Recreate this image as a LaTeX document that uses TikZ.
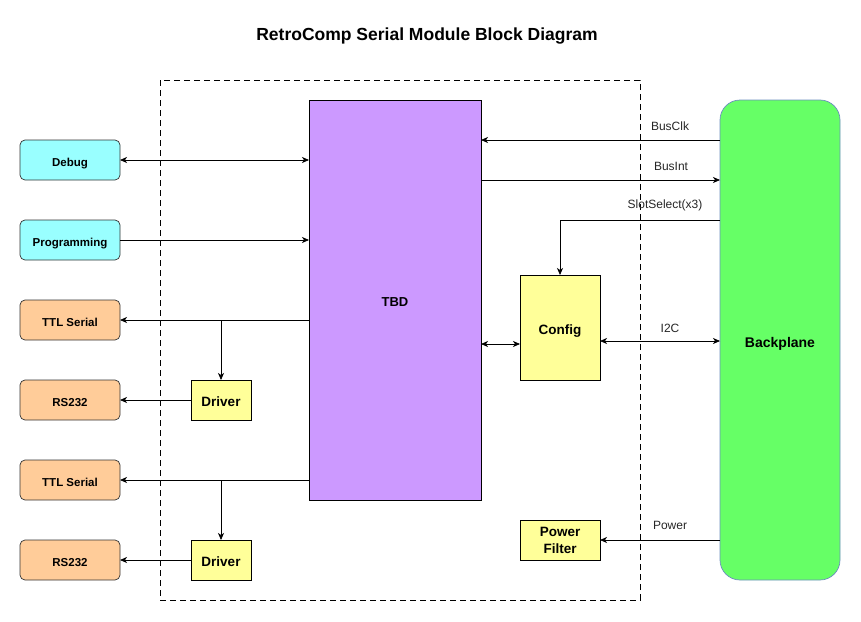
\documentclass[tikz,border=0pt]{standalone}
\usepackage{fontspec}
\setmainfont{Liberation Sans}
\usetikzlibrary{arrows.meta}
\definecolor{cyanf}{HTML}{99FFFF}
\definecolor{orangef}{HTML}{FFCC99}
\definecolor{yellowf}{HTML}{FFFF99}
\definecolor{purplef}{HTML}{CC99FF}
\definecolor{greenf}{HTML}{66FF66}
\definecolor{blued}{HTML}{6C8EBF}
\newcommand\ctxt[1]{\raisebox{\dimexpr-0.36em-2pt\relax}[0pt][0pt]{#1}}
\tikzset{
  every node/.style={inner sep=0pt, outer sep=0pt},
  io/.style={draw=black!80, rounded corners=5pt, minimum width=100pt, minimum height=40pt, font=\fontsize{11.5}{13}\selectfont\bfseries, line width=0.7pt},
  cy/.style={io, fill=cyanf},
  og/.style={io, fill=orangef},
  yb/.style={draw=black, fill=yellowf, line width=0.7pt, font=\fontsize{13.5}{16}\selectfont\bfseries, align=center},
  conn/.style={line width=0.75pt, -{Stealth[length=7pt,width=6pt,inset=2pt]}},
  bconn/.style={line width=0.75pt, {Stealth[length=7pt,width=6pt,inset=2pt]}-{Stealth[length=7pt,width=6pt,inset=2pt]}},
  lbl/.style={font=\fontsize{12}{14}\selectfont, text=black!85}
}
\begin{document}
\begin{tikzpicture}[x=1pt,y=-1pt]
\useasboundingbox (0,0) rectangle (861,621);
\node[font=\fontsize{17.5}{20}\selectfont\bfseries] (title) at (427,36) {RetroComp Serial Module Block Diagram};
\draw[dash pattern=on 6pt off 4pt, line width=0.7pt] (160,80) rectangle (640,600);

\node[draw=black, fill=purplef, line width=0.7pt, minimum width=172pt, minimum height=400pt, font=\fontsize{13}{15}\selectfont\bfseries] (tbd) at (395,300) {\ctxt{TBD}};

\node[cy] (debug) at (70,160) {\ctxt{Debug}};
\node[cy] (prog) at (70,240) {\ctxt{Programming}};
\node[og] (ttl1) at (70,320) {\ctxt{TTL Serial}};
\node[og] (rs1) at (70,400) {\ctxt{RS232}};
\node[og] (ttl2) at (70,480) {\ctxt{TTL Serial}};
\node[og] (rs2) at (70,560) {\ctxt{RS232}};

\node[yb, minimum width=60pt, minimum height=40pt] (drv1) at (221,400) {\ctxt{Driver}};
\node[yb, minimum width=60pt, minimum height=40pt] (drv2) at (221,560) {\ctxt{Driver}};
\node[yb, minimum width=80pt, minimum height=105pt] (cfg) at (560,327.5) {\ctxt{Config}};
\node[yb, minimum width=80pt, minimum height=40pt, font=\fontsize{13.5}{17}\selectfont\bfseries] (pf) at (560,540) {\raisebox{-1.5pt}{Power}\\\raisebox{-1.5pt}{Filter}};

\node[draw=blued, fill=greenf, rounded corners=20pt, line width=0.7pt, minimum width=120pt, minimum height=480pt, font=\fontsize{14}{16}\selectfont\bfseries] (bp) at (780,340) {\ctxt{Backplane}};

% left side
\draw[bconn] (debug.east) -- (debug.east -| tbd.west);
\draw[conn] (prog.east) -- (prog.east -| tbd.west);
\coordinate (j1) at (221,320);
\coordinate (j2) at (221,480);
\draw[conn] (ttl1.east -| tbd.west) -- (ttl1.east);
\draw[conn] (j1) -- (drv1.north);
\draw[conn] (drv1.west) -- (rs1.east);
\draw[conn] (ttl2.east -| tbd.west) -- (ttl2.east);
\draw[conn] (j2) -- (drv2.north);
\draw[conn] (drv2.west) -- (rs2.east);

% right side
\coordinate (c1) at (720,140);
\coordinate (c2) at (720,180);
\coordinate (c3) at (720,220);
\coordinate (c4) at (720,341);
\coordinate (c5) at (720,540);
\draw[conn] (c1) -- (c1 -| tbd.east);
\node[lbl] (lclk) at (670,126) {BusClk};
\draw[conn] (c2 -| tbd.east) -- (c2);
\node[lbl] (lint) at (671,166) {BusInt};
\draw[conn] (c3) -- (c3 -| cfg.north) -- (cfg.north);
\node[lbl] (lsel) at (665,205) {SlotSelect(x3)};
\draw[bconn] (tbd.east |- 0,344) -- (cfg.west |- 0,344);
\draw[bconn] (cfg.east |- c4) -- (c4);
\node[lbl] (li2c) at (670,328) {I2C};
\draw[conn] (c5) -- (pf.east);
\node[lbl] (lpow) at (670,525) {Power};
\end{tikzpicture}
\end{document}
